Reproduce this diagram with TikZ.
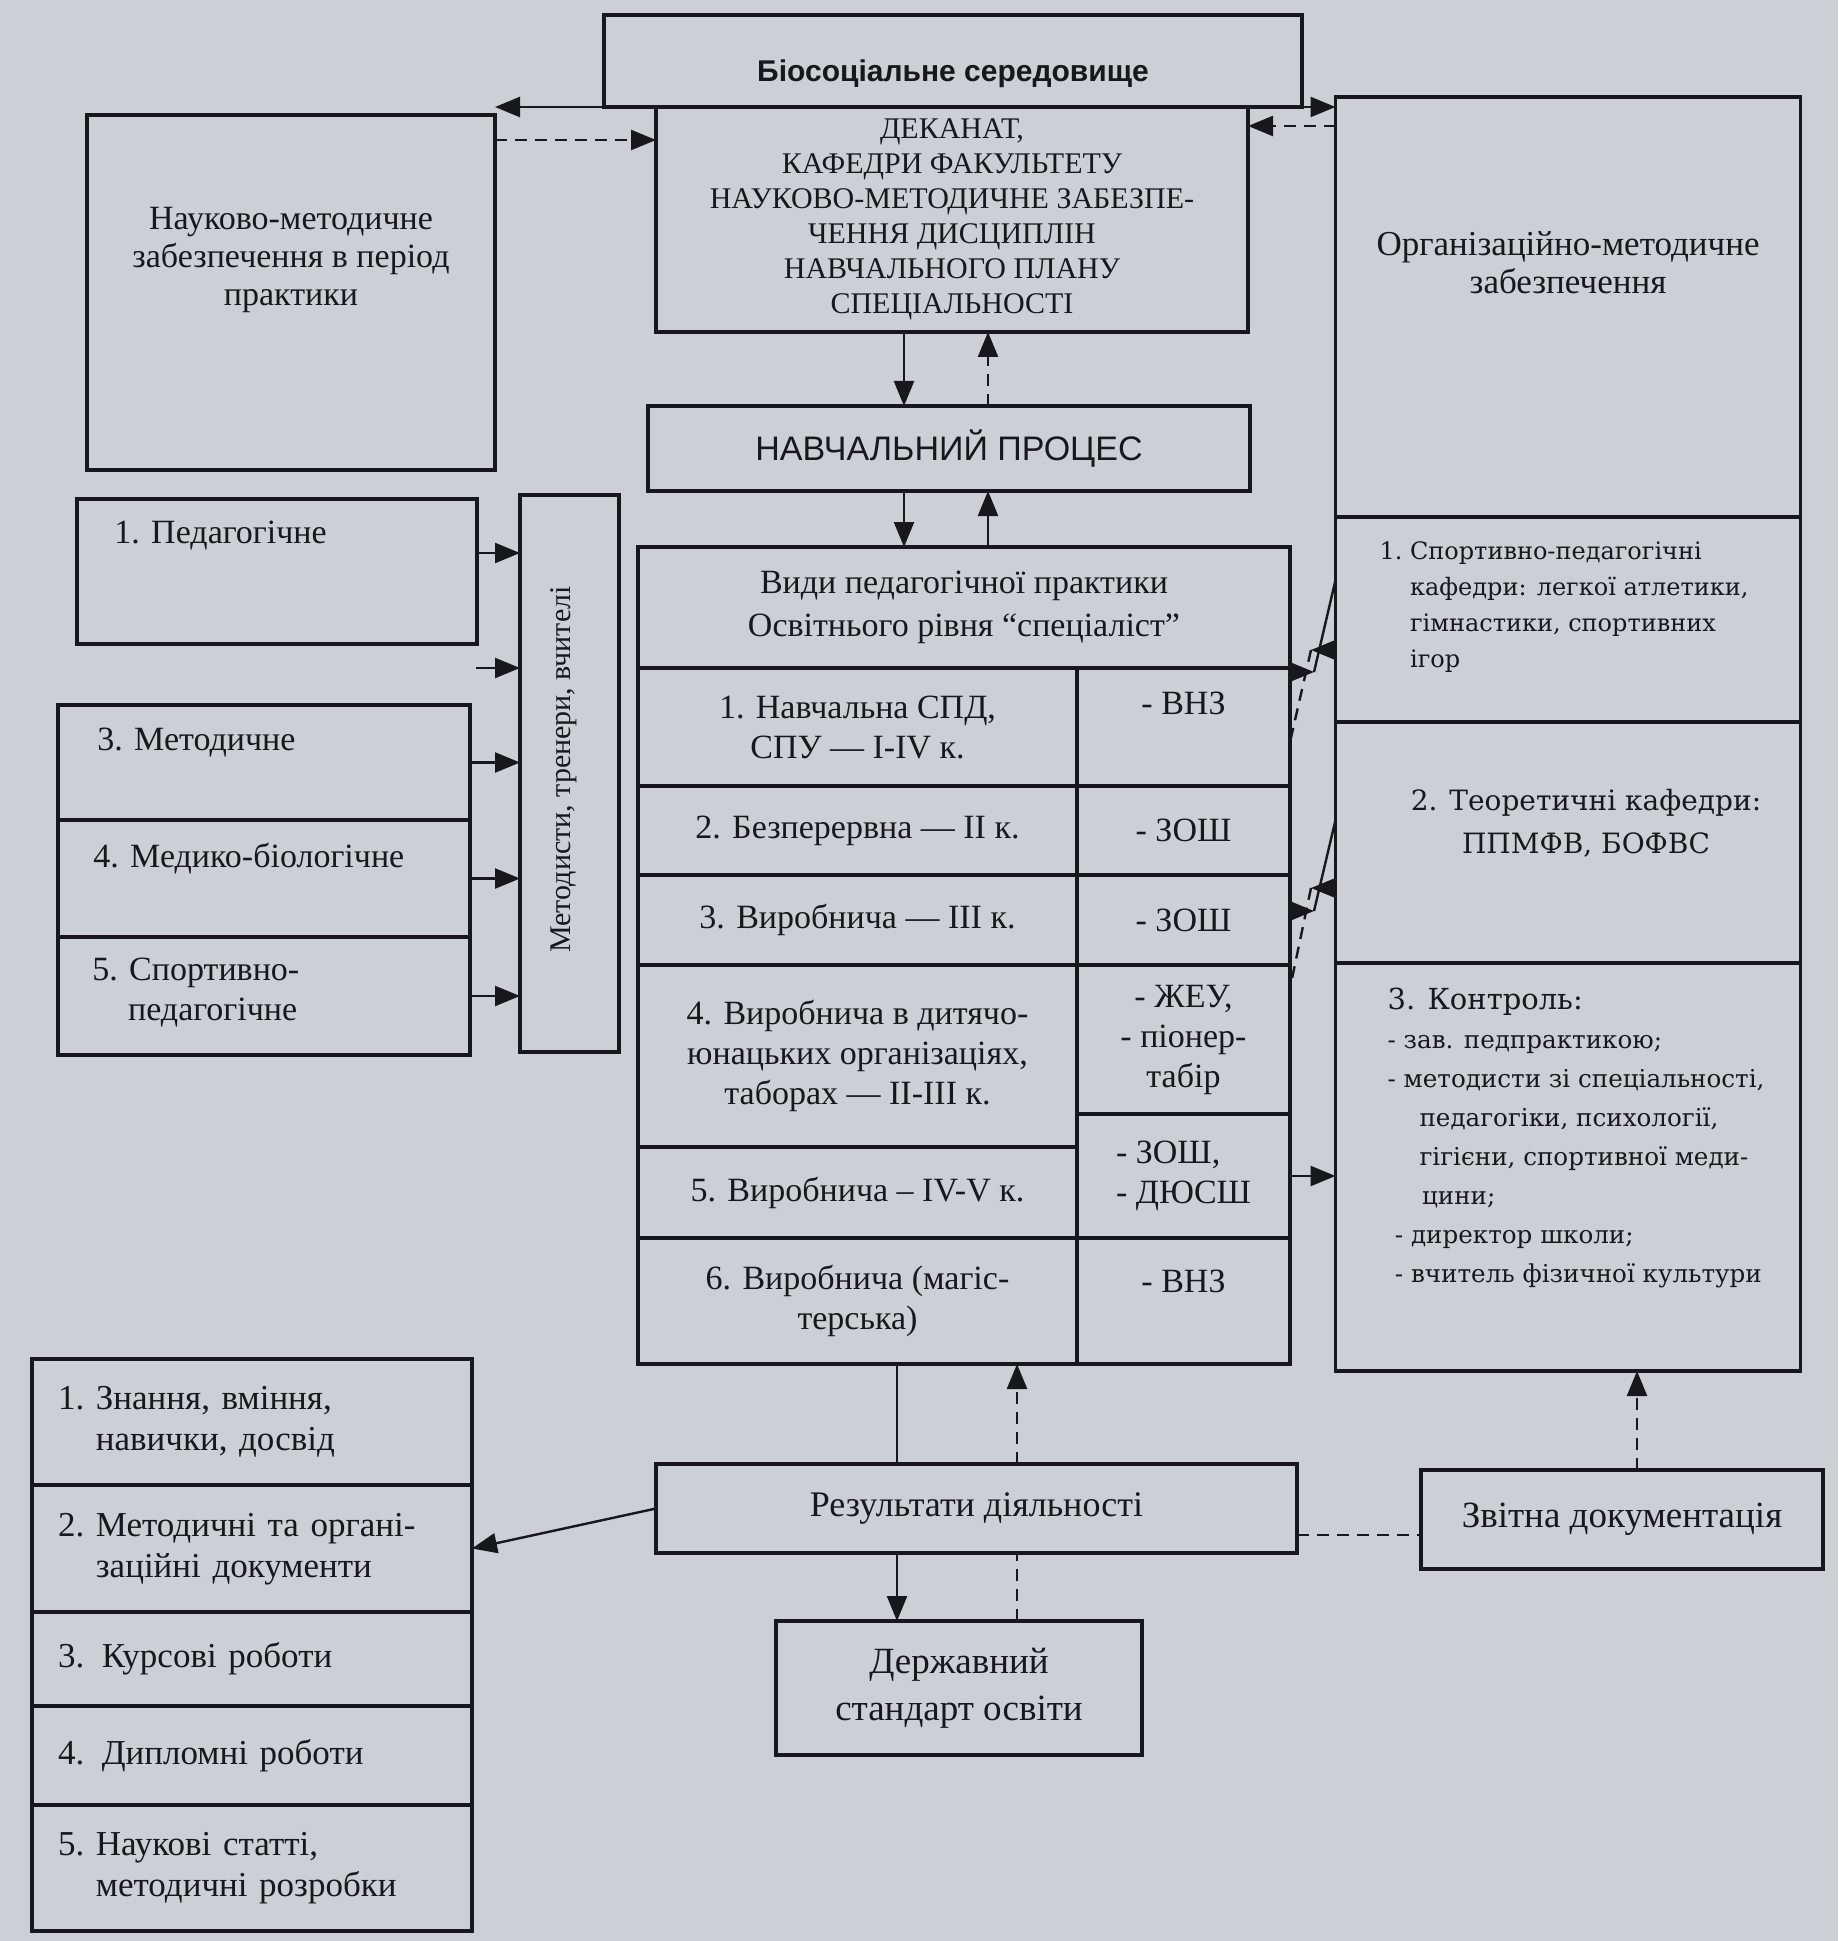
\documentclass[tikz,border=0pt]{standalone}
\usepackage{fontspec}
\setmainfont{Liberation Serif}
\setsansfont{Liberation Sans}
\newfontfamily\kafedra{DejaVu Serif}
\usetikzlibrary{arrows.meta,positioning}

\definecolor{paper}{RGB}{204,207,211}
\definecolor{ink}{RGB}{24,24,28}

\tikzset{
  box/.style={draw=ink, line width=1.6pt, text=ink, inner sep=0pt, outer sep=0pt, align=center},
  txt/.style={inner sep=0pt, text=ink, align=center},
  lcell/.style={box, minimum width=219.5pt, anchor=north west},
  rcell/.style={box, minimum width=106.5pt, anchor=north west},
  side/.style={box, minimum width=206pt},
  item/.style={box, minimum width=220pt, text width=194pt, inner xsep=13pt, align=left, font=\fontsize{17.5}{20.5}\selectfont},
  arr/.style={draw=ink, line width=1.2pt, -{Triangle[length=12.5pt,width=10pt]}},
  link/.style={draw=ink, line width=1.2pt},
  dsh/.style={dash pattern=on 6pt off 4pt},
}

\begin{document}
\begin{tikzpicture}[x=0.5pt, y=-0.5pt, font=\fontsize{17}{20}\selectfont]
\fill[paper] (0,0) rectangle (1838,1941);

% top row
\node[box, minimum width=349pt, minimum height=46pt] (bio) at (953,61) {};
\node[txt, font=\sffamily\bfseries\fontsize{15}{18}\selectfont] (bio-t) at ([yshift=-6.5pt]bio.center) {Біосоціальне середовище};
\node[box, minimum width=296pt, minimum height=112.5pt, font=\fontsize{15}{17.5}\selectfont] (dek) at (952,219.5) {ДЕКАНАТ,\\КАФЕДРИ ФАКУЛЬТЕТУ\\НАУКОВО-МЕТОДИЧНЕ ЗАБЕЗПЕ-\\ЧЕННЯ ДИСЦИПЛІН\\НАВЧАЛЬНОГО ПЛАНУ\\СПЕЦІАЛЬНОСТІ};
\node[box, minimum width=204pt, minimum height=177.5pt] (nmz) at (291,292.5) {};
\node[txt, font=\fontsize{17}{19}\selectfont] (nmz-t) at ([yshift=-72.5pt]nmz.north) {Науково-методичне\\забезпечення в період\\практики};
\node[box, minimum width=301pt, minimum height=42.5pt, font=\sffamily\fontsize{17}{20}\selectfont] (navch) at (949,448.5) {НАВЧАЛЬНИЙ ПРОЦЕС};

% right column
\node[box, minimum width=232.5pt, minimum height=210pt] (org) at (1568,307) {};
\node[txt, font=\fontsize{17.5}{19}\selectfont] (org-t) at ([yshift=-83pt]org.north) {Організаційно-методичне\\забезпечення};
\node[box, minimum width=232.5pt, minimum height=102.5pt, below=0pt of org] (kaf1) {};
\node[txt, font=\kafedra\fontsize{12}{18}\selectfont] (kaf1-t) at ([xshift=-2pt, yshift=-44.5pt]kaf1.north) {\begin{tabular}{@{}l@{~}l@{}}1. & Спортивно-педагогічні\\ & кафедри: легкої атлетики,\\ & гімнастики, спортивних\\ & ігор\end{tabular}};
\node[box, minimum width=232.5pt, minimum height=120.5pt, below=0pt of kaf1] (kaf2) {};
\node[txt, font=\kafedra\fontsize{14}{21.5}\selectfont] (kaf2-t) at ([xshift=9pt, yshift=-50.5pt]kaf2.north) {2. Теоретичні кафедри:\\ППМФВ, БОФВС};
\node[box, minimum width=232.5pt, minimum height=204pt, below=0pt of kaf2] (ctrl) {};
\node[txt, font=\kafedra\fontsize{12.3}{19.5}\selectfont] (ctrl-t) at ([xshift=4pt, yshift=-87.5pt]ctrl.north) {\begin{tabular}{@{}l@{}}{\fontsize{14.5}{19.5}\selectfont 3. Контроль:}\\- зав. педпрактикою;\\- методисти зі спеціальності,\\\hspace*{1.3em}педагогіки, психології,\\\hspace*{1.3em}гігієни, спортивної меди-\\\hspace*{1.4em}цини;\\\hspace*{0.3em}- директор школи;\\\hspace*{0.3em}- вчитель фізичної культури\end{tabular}};

% methodists
\node[box, minimum width=49.5pt, minimum height=278.5pt] (met) at (569.5,773.5) {};
\node[txt, rotate=90, font=\fontsize{15}{17}\selectfont] (met-t) at ([xshift=-3pt, yshift=2pt]met.center) {Методисти, тренери, вчителі};

% left boxes
\node[box, minimum width=200pt, minimum height=72.5pt] (ped) at (277,571.5) {};
\node[txt, anchor=north west] (ped-t) at ([xshift=18.5pt, yshift=-11pt]ped.north west) {1. Педагогічне};
\node[side, minimum height=57.5pt] (m3) at (264,762.5) {};
\node[txt, anchor=north west] (m3-t) at ([xshift=19.5pt, yshift=-11.5pt]m3.north west) {3. Методичне};
\node[side, minimum height=58.5pt, below=0pt of m3] (m4) {};
\node[txt, anchor=north west] (m4-t) at ([xshift=17.5pt, yshift=-11.5pt]m4.north west) {4. Медико-біологічне};
\node[side, minimum height=59pt, below=0pt of m4] (s5) {};
\node[txt, anchor=north west, align=left] (s5-t) at ([xshift=17pt, yshift=-10.5pt]s5.north west) {5. Спортивно-\\\hspace*{1.05em}педагогічне};

% table of practice types
\node[box, minimum width=326pt, minimum height=60.5pt, font=\fontsize{17}{21.5}\selectfont] (hdr) at (964,607.5) {Види педагогічної практики\\Освітнього рівня “спеціаліст”};
\node[lcell, minimum height=59pt] (r1a) at (hdr.south west) {1. Навчальна СПД,\\СПУ — I-IV к.};
\node[rcell, minimum height=59pt] (r1b) at (r1a.north east) {};
\node[txt] (r1b-t) at ([yshift=-17.5pt]r1b.north) {- ВНЗ};
\node[lcell, minimum height=44.5pt] (r2a) at (r1a.south west) {2. Безперервна — II к.};
\node[rcell, minimum height=44.5pt] (r2b) at (r2a.north east) {- ЗОШ};
\node[lcell, minimum height=45pt] (r3a) at (r2a.south west) {3. Виробнича — III к.};
\node[rcell, minimum height=45pt] (r3b) at (r3a.north east) {- ЗОШ};
\node[lcell, minimum height=91pt] (r4a) at (r3a.south west) {4. Виробнича в дитячо-\\юнацьких організаціях,\\таборах — II-III к.};
\node[rcell, minimum height=74.5pt] (r4b) at (r4a.north east) {- ЖЕУ,\\- піонер-\\табір};
\node[lcell, minimum height=45.5pt] (r5a) at (r4a.south west) {5. Виробнича – IV-V к.};
\node[rcell, minimum height=62pt, align=left] (r5b) at (r4b.south west) {- ЗОШ,\\- ДЮСШ};
\node[lcell, minimum height=63pt] (r6a) at (r5a.south west) {6. Виробнича (магіс-\\терська)};
\node[rcell, minimum height=63pt] (r6b) at (r6a.north east) {};
\node[txt] (r6b-t) at ([yshift=-21.5pt]r6b.north) {- ВНЗ};

% bottom part
\node[box, minimum width=320.5pt, minimum height=44.5pt, font=\fontsize{18}{21}\selectfont] (res) at (976.5,1508.5) {Результати діяльності};
\node[box, minimum width=183pt, minimum height=67pt, font=\fontsize{18.5}{23.5}\selectfont] (derzh) at (959,1688) {Державний\\стандарт освіти};
\node[box, minimum width=201pt, minimum height=49.5pt, font=\fontsize{18.5}{21}\selectfont] (zvit) at (1622,1519.5) {Звітна документація};

\node[item, minimum height=63pt] (rl1) at (252,1422) {\begin{tabular}{@{}l@{~}l@{}}1. & Знання, вміння,\\ & навички, досвід\end{tabular}};
\node[item, minimum height=63.5pt, below=0pt of rl1] (rl2) {\begin{tabular}{@{}l@{~}l@{}}2. & Методичні та органі-\\ & заційні документи\end{tabular}};
\node[item, minimum height=47pt, below=0pt of rl2] (rl3) {3. Курсові роботи};
\node[item, minimum height=49.5pt, below=0pt of rl3] (rl4) {4. Дипломні роботи};
\node[item, minimum height=63pt, below=0pt of rl4] (rl5) {\begin{tabular}{@{}l@{~}l@{}}5. & Наукові статті,\\ & методичні розробки\end{tabular}};

% connectors at the top
\draw[arr] (dek.north west) -- (nmz.east |- dek.north west);
\draw[arr, dsh] (nmz.east |- 0,140) -- (dek.west |- 0,140);
\draw[arr] (bio.south east) -- (org.west |- bio.south east);
\draw[arr, dsh] (org.west |- 0,126) -- (dek.east |- 0,126);
\draw[arr] (904,0 |- dek.south) -- (904,0 |- navch.north);
\draw[arr, dsh] (988,0 |- navch.north) -- (988,0 |- dek.south);
\draw[arr] (904,0 |- navch.south) -- (904,0 |- hdr.north);
\draw[arr] (988,0 |- hdr.north) -- (988,0 |- navch.south);

% into the methodists
\draw[arr] (ped.east |- 0,553) -- (met.west |- 0,553);
\coordinate (free) at (476,668);
\draw[arr] (free) -- (free -| met.west);
\draw[arr] (m3.east) -- (m3.east -| met.west);
\draw[arr] (m4.east) -- (m4.east -| met.west);
\draw[arr] (s5.east) -- (s5.east -| met.west);

% table and departments
\coordinate (t1) at (1314,672);
\draw[arr] (t1 -| r1b.east) -- (t1);
\draw[link] (t1) -- (kaf1.west |- 0,580);
\coordinate (k1) at (1311,650);
\draw[arr] (k1 -| kaf1.west) -- (k1);
\draw[link, dsh] (k1) -- (r1b.east |- 0,742);
\coordinate (t2) at (1314,911);
\draw[arr] (t2 -| r3b.east) -- (t2);
\draw[link] (t2) -- (kaf2.west |- 0,820);
\coordinate (k2) at (1311,888);
\draw[arr] (k2 -| kaf2.west) -- (k2);
\draw[link, dsh] (k2) -- (r4b.east |- 0,988);
\draw[arr] (r5b.east) -- (r5b.east -| ctrl.west);

% results
\draw[link] (897,0 |- r6a.south) -- (897,0 |- res.north);
\draw[arr, dsh] (1017,0 |- res.north) -- (1017,0 |- r6a.south);
\draw[arr] (897,0 |- res.south) -- (897,0 |- derzh.north);
\draw[link, dsh] (1017,0 |- derzh.north) -- (1017,0 |- res.south);
\draw[link, dsh] (res.east |- 0,1535) -- (zvit.west |- 0,1535);
\draw[arr, dsh] (1637,0 |- zvit.north) -- (1637,0 |- ctrl.south);
\draw[arr] (res.west) -- (rl2.east);
\end{tikzpicture}
\end{document}
